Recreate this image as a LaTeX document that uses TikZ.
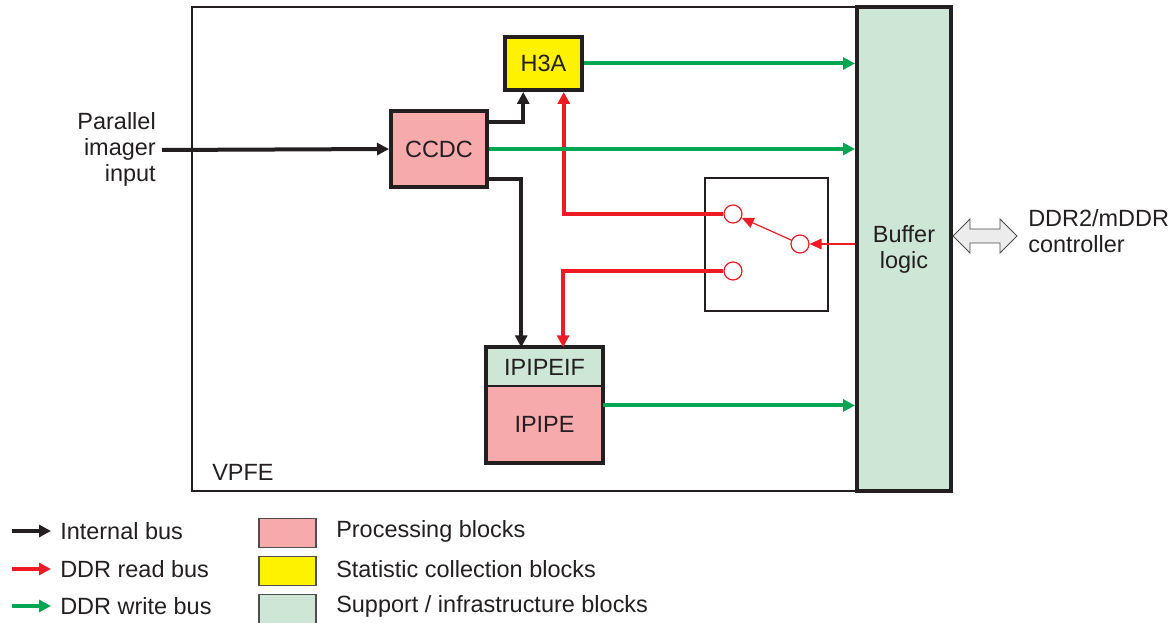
\documentclass[tikz,border=0pt]{standalone}
\usepackage{fontspec}
\setmainfont{Liberation Sans}
\usetikzlibrary{arrows.meta,calc,positioning}
\definecolor{pinkc}{RGB}{247,170,172}
\definecolor{yelc}{RGB}{255,242,0}
\definecolor{supc}{RGB}{205,230,214}
\definecolor{grnc}{RGB}{0,166,81}
\definecolor{redc}{RGB}{237,28,36}
\definecolor{blkc}{RGB}{35,31,32}
\tikzset{
  every node/.style={font=\fontsize{17.6}{19.5}\selectfont, text=blkc},
  blk/.style={draw=blkc, line width=3pt, inner sep=0pt, align=center},
  bus/.style={line width=3pt, -{Triangle[length=9pt,width=9pt]}},
  intbus/.style={bus, draw=blkc},
  rdbus/.style={bus, draw=redc},
  wrbus/.style={bus, draw=grnc},
  thinred/.style={draw=redc, line width=0.9pt, -{Triangle[length=9pt,width=8pt]}},
  swc/.style={circle, draw=redc, line width=0.9pt, fill=white, minimum size=13.5pt, inner sep=0pt},
  legbox/.style={draw=blkc!80, line width=0.8pt, minimum width=42.75pt, minimum height=21.75pt, inner sep=0pt},
  lbl/.style={anchor=west, inner sep=0pt}
}
\begin{document}
\begin{tikzpicture}[x=0.75pt, y=-0.75pt]
\useasboundingbox (0,0) rectangle (1175,623);
% VPFE frame
\node[draw=blkc, line width=1.5pt, minimum width=498.75pt, minimum height=363pt, inner sep=0pt] (vpfe) at (524.5,249) {};
\node[lbl] (vpfel) at (212,472) {VPFE};
% Buffer logic
\node[blk, fill=supc, minimum width=70.5pt, minimum height=363pt] (buf) at (904,249) {Buffer\\logic};
% blocks
\node[blk, fill=yelc, minimum width=57.75pt, minimum height=39.75pt] (h3a) at (543.5,63.5) {H3A};
\node[blk, fill=pinkc, minimum width=72pt, minimum height=57pt] (ccdc) at (439,149) {CCDC};
\node[draw=blkc, line width=1pt, fill=supc, minimum width=86.25pt, minimum height=28.5pt, inner sep=0pt] (ipif) at (544.5,367) {IPIPEIF};
\node[draw=blkc, line width=1pt, fill=pinkc, minimum width=86.25pt, minimum height=57pt, inner sep=0pt] (ipipe) at (544.5,424) {IPIPE};
\draw[draw=blkc, line width=3pt] (ipif.north west) rectangle (ipipe.south east);
% switch box
\node[draw=blkc, line width=1.5pt, minimum width=92.25pt, minimum height=99.75pt, inner sep=0pt] (sw) at (766.5,244.5) {};
\node[swc] (c1) at (733,214) {};
\node[swc] (c2) at (733,271) {};
\node[swc] (c3) at (800,244) {};
% input
\node[anchor=east, align=right, inner sep=0pt] (pin) at (156,149) {Parallel\\imager\\input};
\coordinate (pinend) at (162,150);
\draw[intbus] (pinend) -- (ccdc.west);
% internal buses
\draw[intbus] ($(ccdc.north east)!0.16!(ccdc.south east)$) -| ($(h3a.south west)!0.25!(h3a.south east)$);
\draw[intbus] ($(ccdc.north east)!0.88!(ccdc.south east)$) -| ($(ipif.north west)!0.30!(ipif.north east)$);
% read buses
\draw[rdbus] (c1.west) -| ($(h3a.south west)!0.75!(h3a.south east)$);
\draw[rdbus] (c2.west) -| ($(ipif.north west)!0.66!(ipif.north east)$);
\draw[thinred] (buf.west |- c3) -- (c3.east);
\draw[thinred] (c3) -- (c1);
% write buses
\draw[wrbus] (h3a.east) -- (h3a.east -| buf.west);
\draw[wrbus] (ccdc.east) -- (ccdc.east -| buf.west);
\draw[wrbus] ($(ipipe.north east)!0.26!(ipipe.south east)$) coordinate (ipo) -- (ipo -| buf.west);
% DDR controller
\draw[draw=blkc!80, line width=0.7pt, fill=gray!15] (953,236) -- (970,219) -- (970,229) -- (1000,229) -- (1000,219) -- (1017,236) -- (1000,253) -- (1000,243) -- (970,243) -- (970,253) -- cycle;
\node[anchor=west, align=left, inner sep=0pt] (ddr) at (1028,231) {DDR2/mDDR\\controller};
% legend
\coordinate (la1) at (12,531); \coordinate (lb1) at (51,531);
\coordinate (la2) at (12,569); \coordinate (lb2) at (51,569);
\coordinate (la3) at (12,606); \coordinate (lb3) at (51,606);
\draw[intbus] (la1) -- (lb1);
\draw[rdbus] (la2) -- (lb2);
\draw[wrbus] (la3) -- (lb3);
\node[lbl] (l1) at (60,531) {Internal bus};
\node[lbl] (l2) at (60,569) {DDR read bus};
\node[lbl] (l3) at (60,606) {DDR write bus};
\node[legbox, fill=pinkc] (k1) at (287.5,533) {};
\node[legbox, fill=yelc] (k2) at (287.5,571) {};
\node[legbox, fill=supc] (k3) at (287.5,609) {};
\node[lbl] (t1) at (336,531) {Processing blocks};
\node[lbl] (t2) at (336,569) {Statistic collection blocks};
\node[lbl] (t3) at (336,606) {Support / infrastructure blocks};
\end{tikzpicture}
\end{document}
